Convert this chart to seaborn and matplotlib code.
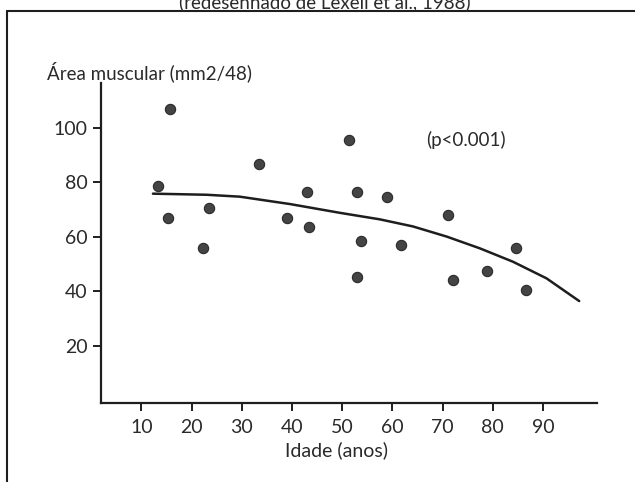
import pandas as pd
import matplotlib.pyplot as plt
import seaborn as sns

# Points
idade = [13.4, 15.7, 15.3, 23.4, 22.2, 33.4, 39.0, 43.0, 43.4, 51.3,
         53.0, 53.7, 53.0, 58.9, 61.7, 71.0, 72.1, 78.9, 84.6, 86.6]
area = [78.7, 106.8, 67.0, 70.6, 55.9, 86.8, 66.9, 76.3, 63.7, 95.6,
        76.3, 58.5, 45.3, 74.7, 56.9, 67.9, 44.3, 47.4, 56.0, 40.6]

# fitted curve as drawn in the figure
curva_x = [12.3, 23.0, 29.6, 39.6, 49.5, 57.5, 64.1, 70.8, 77.4, 84.0, 90.7, 97.2]
curva_y = [75.8, 75.4, 74.7, 72.0, 68.8, 66.4, 63.8, 60.1, 55.8, 50.9, 44.8, 36.5]

x_ticks = [10, 20, 30, 40, 50, 60, 70, 80, 90]
y_ticks = [20, 40, 60, 80, 100]

pontos = pd.DataFrame({'idade': idade, 'area': area})
curva = pd.DataFrame({'idade': curva_x, 'area': curva_y})

sns.set_style('white')
plt.rcParams['font.family'] = ['Lato', 'DejaVu Sans']
ink = '#1e1e1e'
txt = '#2a2a2a'

fig = plt.figure(figsize=(6.35, 4.82), dpi=100)
ax = fig.add_axes([0.1594, 0.1645, 0.7804, 0.6633])

sns.lineplot(data=curva, x='idade', y='area', ax=ax, color=ink, lw=1.8,
             sort=False, estimator=None)
sns.scatterplot(data=pontos, x='idade', y='area', ax=ax, s=55,
                color='#444444', edgecolor='#2a2a2a', linewidth=0.8, zorder=3)

ax.set_xlim(2.0, 100.7)
ax.set_ylim(-0.7, 116.3)
ax.set_xticks(x_ticks)
ax.set_yticks(y_ticks)
ax.tick_params(axis='both', bottom=True, left=True, direction='out',
               length=6, width=1.4, color=ink, labelcolor=txt,
               labelsize=14, pad=4)
ax.tick_params(axis='x', pad=6)
for side in ['top', 'right']:
    ax.spines[side].set_visible(False)
for side in ['left', 'bottom']:
    ax.spines[side].set_linewidth(1.6)
    ax.spines[side].set_color(ink)

ax.set_xlabel('Idade (anos)', fontsize=14, color=txt, va='top')
ax.xaxis.set_label_coords(0.474, -0.12)
ax.set_ylabel('')
fig.text(47 / 635, 1 - 72 / 482, 'Área muscular (mm2/48)', fontsize=13.5,
         color=txt, ha='left', va='center')
fig.text(466 / 635, 1 - 140 / 482, '(p<0.001)', fontsize=13.5, color=txt,
         ha='center', va='center')

# caption cut off at the top of the scan and the frame around the figure
fig.text(0.512, 1 - 8 / 482, '(redesenhado de Lexell et al., 1988)',
         fontsize=13.5, color=txt, ha='center', va='baseline')
fig.add_artist(plt.Line2D([7 / 635, 1.0], [1 - 11 / 482, 1 - 11 / 482],
                          color=ink, lw=1.5, transform=fig.transFigure))
fig.add_artist(plt.Line2D([7 / 635, 7 / 635], [0.0, 1 - 11 / 482],
                          color=ink, lw=1.5, transform=fig.transFigure))

fig.savefig('out.png', dpi=100)
